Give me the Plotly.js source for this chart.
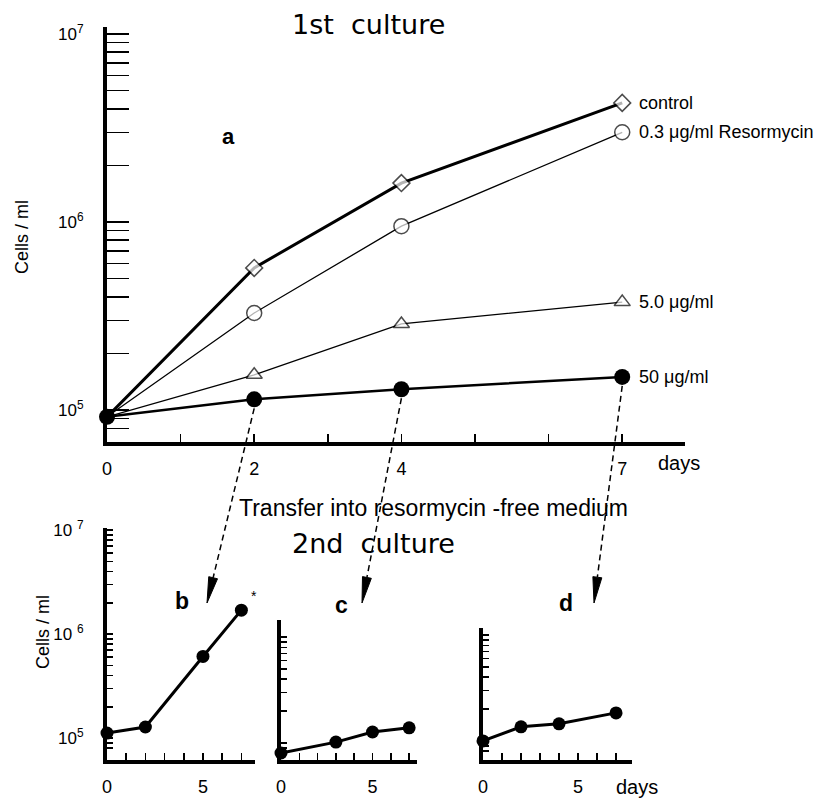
<!DOCTYPE html>
<html><head><meta charset="utf-8">
<script src="https://cdn.plot.ly/plotly-3.0.1.min.js"></script>
<style>html,body{margin:0;padding:0;background:#fff}#chart{width:825px;height:798px}</style>
</head><body><div id="chart"></div>
<script>
// ---------- data ----------
const days1 = [0, 2, 4, 7];
const control = [9.2e4, 5.7e5, 1.61e6, 4.3e6];
const res03 = [9.2e4, 3.28e5, 9.5e5, 3.0e6];
const res5 = [9.2e4, 1.54e5, 2.87e5, 3.75e5];
const res50 = [9.2e4, 1.14e5, 1.29e5, 1.5e5];
const seriesNames = ['control', '0.3 μg/ml Resormycin', '5.0 μg/ml', '50 μg/ml'];

const daysB = [0, 2, 5, 7];
const cellsB = [1.12e5, 1.28e5, 6.1e5, 1.7e6];
const daysC = [0, 3, 5, 7];
const cellsC = [8.05e4, 1.02e5, 1.27e5, 1.39e5];
const daysD = [0, 2, 4, 7];
const cellsD = [1.0e5, 1.36e5, 1.45e5, 1.84e5];

// tick values and labels
const dayMajor1 = [0, 2, 4, 7];
const dayMajorText1 = ['0', '2', '4', '7'];
const dayMinor1 = [1, 3, 5, 6];
const dayMajor2 = [0, 5];
const dayMajorText2 = ['0', '5'];
const dayMinor2 = [1, 2, 3, 4, 6, 7];
const logMajor = [1e5, 1e6, 1e7];
const logMajorTextMain = ['10<sup>5</sup>', '10<sup>6</sup>', '10<sup>7</sup>'];
const logMajorTextB = ['10<sup>5</sup>', '10 <sup>6</sup>', '10 <sup>7</sup>'];
const logMinor = [8e4, 9e4, 2e5, 3e5, 4e5, 5e5, 6e5, 7e5, 8e5, 9e5, 2e6, 3e6, 4e6, 5e6, 6e6, 7e6, 8e6, 9e6];

// ---------- geometry ----------
const W = 825, H = 798;
const fx = x => x / W;
const fy = y => 1 - y / H;
const FONT = 'Liberation Sans, Arial, sans-serif';
const TFONT = 'DejaVu Sans, sans-serif';

const M = {x0: 107, x1: 685, yTop: 27, yBot: 442, xr: [0, 7.853], yr: [4.830, 7.037]};
const B = {x0: 107, x1: 255, yTop: 528, yBot: 760, xr: [0, 7.71], yr: [4.79, 7.02]};
const C = {x0: 281, x1: 417, yTop: 620, yBot: 760, xr: [0, 7.43], yr: [4.84, 6.16]};
const D = {x0: 483, x1: 632, yTop: 628, yBot: 760, xr: [0, 7.84], yr: [4.82, 6.066]};

function pxOf(P, d) { return P.x0 + (d - P.xr[0]) / (P.xr[1] - P.xr[0]) * (P.x1 - P.x0); }
function pyOf(P, v) { return P.yBot - (Math.log10(v) - P.yr[0]) / (P.yr[1] - P.yr[0]) * (P.yBot - P.yTop); }

function axX(P, major, text, minor, anchor, len) {
  return {domain: [fx(P.x0), fx(P.x1)], range: P.xr, anchor: anchor,
    showline: true, linewidth: 3.5, linecolor: '#000', showgrid: false, zeroline: false,
    ticks: 'inside', ticklen: len, tickwidth: 1.5, tickcolor: '#000',
    tickmode: 'array', tickvals: major, ticktext: text,
    minor: {tickmode: 'array', tickvals: minor, ticks: 'inside', ticklen: len, tickwidth: 1.5, tickcolor: '#000', showgrid: false},
    tickfont: {family: FONT, size: 18, color: '#000'}, ticklabelstandoff: 8, fixedrange: true};
}
function axY(P, text, anchor, len) {
  return {domain: [fy(P.yBot), fy(P.yTop)], range: P.yr, type: 'log', anchor: anchor,
    showline: true, linewidth: 4, linecolor: '#000', showgrid: false, zeroline: false,
    ticks: 'inside', ticklen: len, tickwidth: 1.5, tickcolor: '#000',
    tickmode: 'array', tickvals: logMajor, ticktext: text || ['', '', ''], showticklabels: !!text,
    minor: {tickmode: 'array', tickvals: logMinor, ticks: 'inside', ticklen: len, tickwidth: 1.5, tickcolor: '#000', showgrid: false},
    tickfont: {family: FONT, size: 17, color: '#000'}, ticklabelstandoff: 16, fixedrange: true};
}

const traces = [
  {x: days1, y: control, xaxis: 'x', yaxis: 'y', mode: 'lines+markers',
   line: {color: '#000', width: 3},
   marker: {symbol: 'diamond', size: [0, 13, 13, 13], color: '#fff', line: {width: 1.5, color: '#000'}}},
  {x: days1, y: res03, xaxis: 'x', yaxis: 'y', mode: 'lines+markers',
   line: {color: '#000', width: 1.3},
   marker: {symbol: 'circle', size: [0, 15, 15, 15], color: '#fff', line: {width: 1.5, color: '#000'}}},
  {x: days1, y: res5, xaxis: 'x', yaxis: 'y', mode: 'lines+markers',
   line: {color: '#000', width: 1.3},
   marker: {symbol: 'triangle-up', size: [0, 14, 14, 14], color: '#fff', line: {width: 1.5, color: '#000'}}},
  {x: days1, y: res50, xaxis: 'x', yaxis: 'y', mode: 'lines+markers',
   line: {color: '#000', width: 2.5},
   marker: {symbol: 'circle', size: 16, color: '#000'}},
  {x: daysB, y: cellsB, xaxis: 'x2', yaxis: 'y2', mode: 'lines+markers',
   line: {color: '#000', width: 3}, marker: {symbol: 'circle', size: 13, color: '#000'}},
  {x: daysC, y: cellsC, xaxis: 'x3', yaxis: 'y3', mode: 'lines+markers',
   line: {color: '#000', width: 3}, marker: {symbol: 'circle', size: 13, color: '#000'}},
  {x: daysD, y: cellsD, xaxis: 'x4', yaxis: 'y4', mode: 'lines+markers',
   line: {color: '#000', width: 3}, marker: {symbol: 'circle', size: 13, color: '#000'}}
];
traces.forEach(t => { t.showlegend = false; t.cliponaxis = false; t.hoverinfo = 'skip'; });

const annotations = [
  {xref: 'paper', yref: 'paper', x: fx(368), y: fy(24), text: '1st  culture', showarrow: false, xanchor: 'center', yanchor: 'middle', font: {family: 'DejaVu Sans', size: 27, color: '#000'}},
  {xref: 'paper', yref: 'paper', x: fx(228), y: fy(137), text: 'a', showarrow: false, xanchor: 'center', yanchor: 'middle', font: {family: 'Liberation Sans', size: 22, color: '#000', weight: 'bold'}},
  {xref: 'paper', yref: 'paper', x: fx(679), y: fy(463), text: 'days', showarrow: false, xanchor: 'center', yanchor: 'middle', font: {family: 'Liberation Sans', size: 20, color: '#000'}},
  {xref: 'paper', yref: 'paper', x: fx(22), y: fy(237), text: 'Cells / ml', textangle: -90, showarrow: false, xanchor: 'center', yanchor: 'middle', font: {family: 'Liberation Sans', size: 18, color: '#000'}},
  {xref: 'paper', yref: 'paper', x: fx(433), y: fy(508), text: 'Transfer into resormycin -free medium', showarrow: false, xanchor: 'center', yanchor: 'middle', font: {family: 'Liberation Sans', size: 23, color: '#000'}},
  {xref: 'paper', yref: 'paper', x: fx(373), y: fy(543), text: '2nd  culture', showarrow: false, xanchor: 'center', yanchor: 'middle', font: {family: 'DejaVu Sans', size: 27, color: '#000'}},
  {xref: 'paper', yref: 'paper', x: fx(182), y: fy(601), text: 'b', showarrow: false, xanchor: 'center', yanchor: 'middle', font: {family: 'Liberation Sans', size: 23, color: '#000', weight: 'bold'}},
  {xref: 'paper', yref: 'paper', x: fx(341), y: fy(605), text: 'c', showarrow: false, xanchor: 'center', yanchor: 'middle', font: {family: 'Liberation Sans', size: 23, color: '#000', weight: 'bold'}},
  {xref: 'paper', yref: 'paper', x: fx(566), y: fy(603), text: 'd', showarrow: false, xanchor: 'center', yanchor: 'middle', font: {family: 'Liberation Sans', size: 23, color: '#000', weight: 'bold'}},
  {xref: 'paper', yref: 'paper', x: fx(254), y: fy(596), text: '*', showarrow: false, xanchor: 'center', yanchor: 'middle', font: {family: 'Liberation Sans', size: 14, color: '#000'}},
  {xref: 'paper', yref: 'paper', x: fx(43), y: fy(632), text: 'Cells / ml', textangle: -90, showarrow: false, xanchor: 'center', yanchor: 'middle', font: {family: 'Liberation Sans', size: 18, color: '#000'}},
  {xref: 'paper', yref: 'paper', x: fx(637), y: fy(787), text: 'days', showarrow: false, xanchor: 'center', yanchor: 'middle', font: {family: 'Liberation Sans', size: 20, color: '#000'}}
];
const lastVals = [control, res03, res5, res50].map(s => s[s.length - 1]);
seriesNames.forEach((n, i) => {
  annotations.push({xref: 'x', yref: 'y', x: days1[days1.length - 1], y: Math.log10(lastVals[i]),
    text: n, showarrow: false, xanchor: 'left', yanchor: 'middle', xshift: 15,
    font: {family: 'Liberation Sans', size: 18, color: '#000'}});
});

// dashed transfer arrows: from 50 µg/ml points (day 2, 4, 7) to panels b, c, d
const arrowTips = [[207, 603], [362, 603], [594, 603]];
const shapes = [];
[1, 2, 3].forEach((idx, k) => {
  const sx = pxOf(M, days1[idx]), sy = pyOf(M, res50[idx]) + 9;
  const [tx, ty] = arrowTips[k];
  const dx = tx - sx, dy = ty - sy, L = Math.hypot(dx, dy);
  const ux = dx / L, uy = dy / L, nx = -uy, ny = ux;
  const hl = 26, hw = 4.5;
  const bx = tx - ux * hl, by = ty - uy * hl;
  shapes.push({type: 'line', xref: 'paper', yref: 'paper', x0: fx(sx), y0: fy(sy), x1: fx(bx), y1: fy(by),
    line: {color: '#000', width: 1.5, dash: '6px,4px'}});
  const p = (x, y) => fx(x).toFixed(5) + ',' + fy(y).toFixed(5);
  shapes.push({type: 'path', xref: 'paper', yref: 'paper',
    path: 'M' + p(tx, ty) + ' L' + p(bx + nx * hw, by + ny * hw) + ' L' + p(bx - nx * hw, by - ny * hw) + ' Z',
    fillcolor: '#000', line: {color: '#000', width: 1}});
});

const layout = {
  width: W, height: H, margin: {l: 0, r: 0, t: 0, b: 0},
  paper_bgcolor: '#fff', plot_bgcolor: 'rgba(0,0,0,0)', showlegend: false,
  xaxis: axX(M, dayMajor1, dayMajorText1, dayMinor1, 'y', 8), yaxis: axY(M, logMajorTextMain, 'x', 22),
  xaxis2: axX(B, dayMajor2, dayMajorText2, dayMinor2, 'y2', 7), yaxis2: axY(B, logMajorTextB, 'x2', 6),
  xaxis3: axX(C, dayMajor2, dayMajorText2, dayMinor2, 'y3', 7), yaxis3: axY(C, null, 'x3', 6),
  xaxis4: axX(D, dayMajor2, dayMajorText2, dayMinor2, 'y4', 7), yaxis4: axY(D, null, 'x4', 6),
  annotations: annotations, shapes: shapes
};
Plotly.newPlot('chart', traces, layout, {displayModeBar: false, staticPlot: true});
</script></body></html>
